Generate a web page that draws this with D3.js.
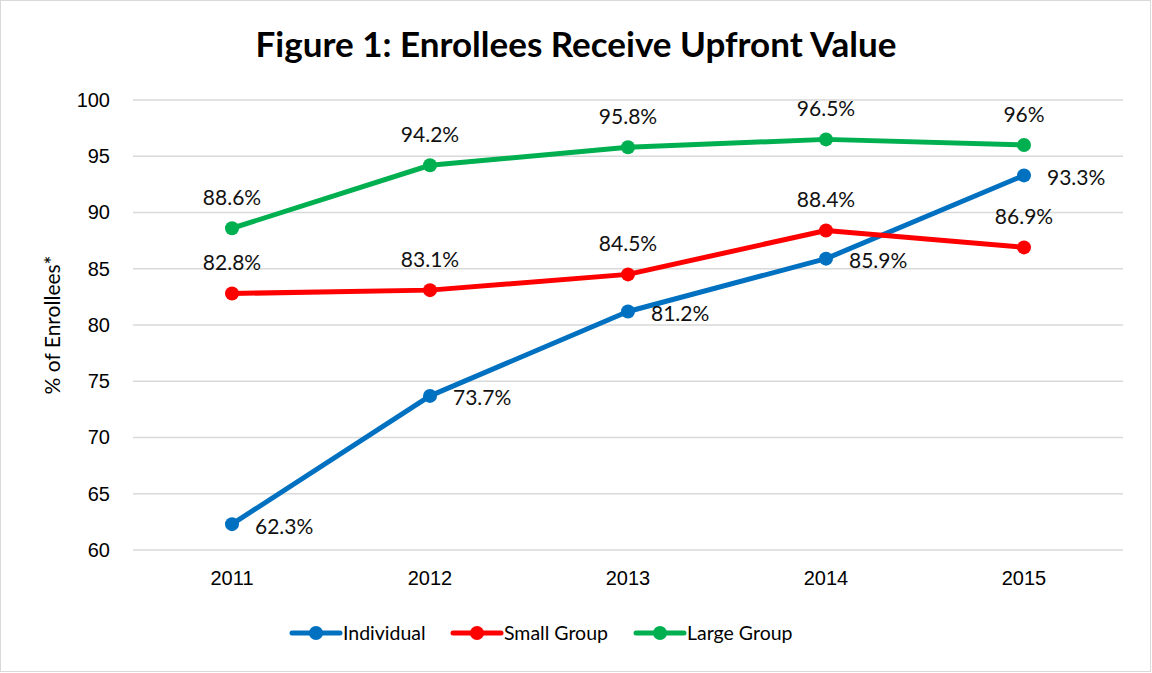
<!DOCTYPE html>
<html>
<head>
<meta charset="utf-8">
<script src="https://cdn.jsdelivr.net/npm/d3@7"></script>
<style>
  html, body { margin: 0; padding: 0; background: #fff; }
  svg { display: block; font-family: Lato, "Open Sans", sans-serif; }
  .tick text { font-size: 20px; fill: #000; }
  .lbl { font-size: 21px; fill: #111; }
</style>
</head>
<body>
<div id="chart"></div>
<script>
// Figure 1 data: % of enrollees by market segment and year
const years = ["2011", "2012", "2013", "2014", "2015"];
const individual = [62.3, 73.7, 81.2, 85.9, 93.3];
const smallGroup = [82.8, 83.1, 84.5, 88.4, 86.9];
const largeGroup = [88.6, 94.2, 95.8, 96.5, 96];
const yTicks = [60, 65, 70, 75, 80, 85, 90, 95, 100];

const W = 1152, H = 673;
const m = { top: 100, right: 29, bottom: 123, left: 133 };

const svg = d3.select("#chart").append("svg").attr("width", W).attr("height", H);

// chart frame
svg.append("rect").attr("x", 0.5).attr("y", 0.5).attr("width", W - 2).attr("height", H - 2)
  .attr("fill", "#fff").attr("stroke", "#d9d9d9");

const x = d3.scaleBand(years, [m.left, W - m.right]);
const y = d3.scaleLinear([60, 100], [H - m.bottom, m.top]);
const cx = (i) => x(years[i]) + x.bandwidth() / 2;

// gridlines
svg.append("g").selectAll("line").data(yTicks).join("line")
  .attr("x1", m.left).attr("x2", W - m.right)
  .attr("y1", (d) => y(d)).attr("y2", (d) => y(d))
  .attr("stroke", "#d9d9d9").attr("stroke-width", 1.5);

// axes (labels only)
const yAx = svg.append("g").attr("transform", `translate(${m.left - 23},0)`)
  .call(d3.axisLeft(y).tickValues(yTicks).tickSize(0).tickPadding(0));
yAx.select(".domain").remove();
yAx.selectAll("text").attr("font-family", null);

const xAx = svg.append("g").attr("transform", `translate(0,${H - m.bottom + 21})`)
  .call(d3.axisBottom(x).tickSize(0).tickPadding(0));
xAx.select(".domain").remove();
xAx.selectAll("text").attr("dy", "0.7em").attr("font-family", null);

// titles
svg.append("text").attr("x", W / 2 + 0).attr("y", 57).attr("text-anchor", "middle")
  .attr("font-size", 35).attr("font-weight", 700).text("Figure 1: Enrollees Receive Upfront Value");
svg.append("text").attr("transform", `translate(53,${(m.top + H - m.bottom) / 2}) rotate(-90)`)
  .attr("text-anchor", "middle").attr("dy", "0.35em").attr("font-size", 21).text("% of Enrollees*");

const series = [
  { name: "Individual", vals: individual, color: "#0070C0", pos: "right" },
  { name: "Small Group", vals: smallGroup, color: "#FF0000", pos: "above" },
  { name: "Large Group", vals: largeGroup, color: "#00B050", pos: "above" }
];

const line = d3.line().x((d, i) => cx(i)).y((d) => y(d));
for (const s of series) {
  svg.append("path").datum(s.vals).attr("d", line)
    .attr("fill", "none").attr("stroke", s.color).attr("stroke-width", 5).attr("stroke-linejoin", "round");
  svg.append("g").selectAll("circle").data(s.vals).join("circle")
    .attr("cx", (d, i) => cx(i)).attr("cy", (d) => y(d)).attr("r", 7).attr("fill", s.color);
}

// data labels: Individual to the right of its points, the others above
for (const s of series) {
  svg.append("g").selectAll("text").data(s.vals).join("text").attr("class", "lbl")
    .attr("x", (d, i) => s.pos === "right" ? cx(i) + 23 : cx(i))
    .attr("y", (d) => s.pos === "right" ? y(d) + 2 : y(d) - 31)
    .attr("dy", "0.36em")
    .attr("text-anchor", s.pos === "right" ? "start" : "middle")
    .text((d) => `${d}%`);
}

// legend
const legX = [292, 453, 636];
const leg = svg.append("g").selectAll("g").data(series).join("g")
  .attr("transform", (d, i) => `translate(${legX[i]},633)`);
leg.append("line").attr("x1", 0).attr("x2", 48).attr("stroke", (d) => d.color)
  .attr("stroke-width", 5).attr("stroke-linecap", "round");
leg.append("circle").attr("cx", 24).attr("r", 7).attr("fill", (d) => d.color);
leg.append("text").attr("x", 51).attr("dy", "0.35em").attr("font-size", 19.5).text((d) => d.name);
</script>
</body>
</html>
